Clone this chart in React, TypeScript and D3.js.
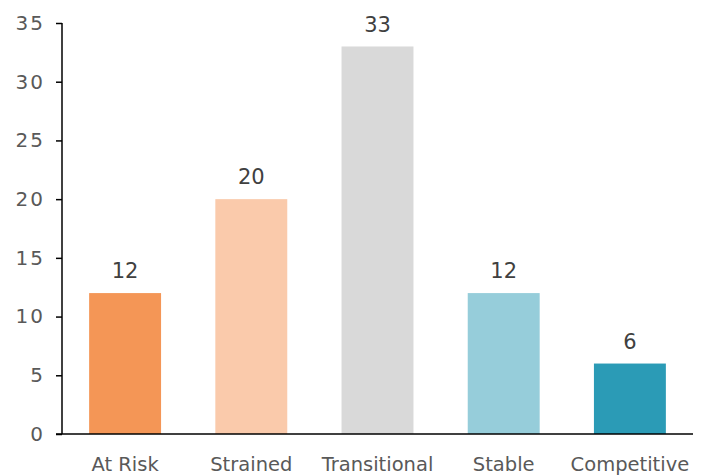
import * as React from 'react';
import * as d3 from 'd3';

const CATEGORIES = ['At Risk', 'Strained', 'Transitional', 'Stable', 'Competitive'];
const VALUES = [12, 20, 33, 12, 6];
const COLORS = ['#F49656', '#FACAAB', '#D9D9D9', '#96CDDA', '#2B9BB6'];
const Y_TICKS = [0, 5, 10, 15, 20, 25, 30, 35];

const FONT = '"DejaVu Sans", "Liberation Sans", sans-serif';

export default function App() {
    const svgRef = React.useRef<SVGSVGElement>(null);

    React.useEffect(() => {
        const svg = d3.select(svgRef.current);
        svg.selectAll('*').remove();

        const MARGIN = { top: 23, right: 11, bottom: 41, left: 62 };
        const width = 704;
        const height = 475;
        const innerWidth = width - MARGIN.left - MARGIN.right;
        const innerHeight = height - MARGIN.top - MARGIN.bottom;

        const g = svg.append('g').attr('transform', `translate(${MARGIN.left},${MARGIN.top})`);

        const xScale = d3.scaleBand().domain(CATEGORIES).range([0, innerWidth]).paddingInner(0.43).paddingOuter(0.215);
        const yScale = d3.scaleLinear().domain([0, 35]).range([innerHeight, 0]);

        // bars
        g.selectAll('rect.bar')
            .data(VALUES)
            .enter()
            .append('rect')
            .attr('class', 'bar')
            .attr('x', (_d, i) => xScale(CATEGORIES[i])!)
            .attr('y', d => yScale(d))
            .attr('width', xScale.bandwidth())
            .attr('height', d => innerHeight - yScale(d))
            .attr('fill', (_d, i) => COLORS[i]);

        // value labels
        g.selectAll('text.val')
            .data(VALUES)
            .enter()
            .append('text')
            .attr('class', 'val')
            .attr('x', (_d, i) => xScale(CATEGORIES[i])! + xScale.bandwidth() / 2)
            .attr('y', d => yScale(d) - 15)
            .attr('text-anchor', 'middle')
            .attr('font-family', FONT)
            .attr('font-size', 21)
            .attr('fill', '#404040')
            .text(d => d);

        // y axis
        const yAxis = d3.axisLeft(yScale).tickValues(Y_TICKS).tickSize(6).tickPadding(11);
        const yAxisDom = g.append('g').call(yAxis);
        yAxisDom.select('.domain').attr('stroke', '#000').attr('stroke-width', 1.5).attr('d', `M0,0V${innerHeight}`);
        yAxisDom.selectAll('.tick line').attr('stroke', '#000').attr('stroke-width', 1.5);
        yAxisDom
            .selectAll('.tick text')
            .attr('font-family', FONT)
            .attr('font-size', 20)
            .attr('letter-spacing', 2)
            .attr('fill', '#595959');

        // x axis
        const xAxis = d3.axisBottom(xScale).tickSize(0).tickPadding(23);
        const xAxisDom = g.append('g').attr('transform', `translate(0,${innerHeight})`).call(xAxis);
        xAxisDom.select('.domain').attr('stroke', '#000').attr('stroke-width', 1.5).attr('d', `M-6,0H${innerWidth}`);
        xAxisDom
            .selectAll('.tick text')
            .attr('font-family', FONT)
            .attr('font-size', 19.5)
            .attr('fill', '#595959');
    }, []);

    return (
        <svg
            ref={svgRef}
            width={704}
            height={475}
            style={{ position: 'absolute', left: 0, top: 0, background: '#fff' }}
        />
    );
}
